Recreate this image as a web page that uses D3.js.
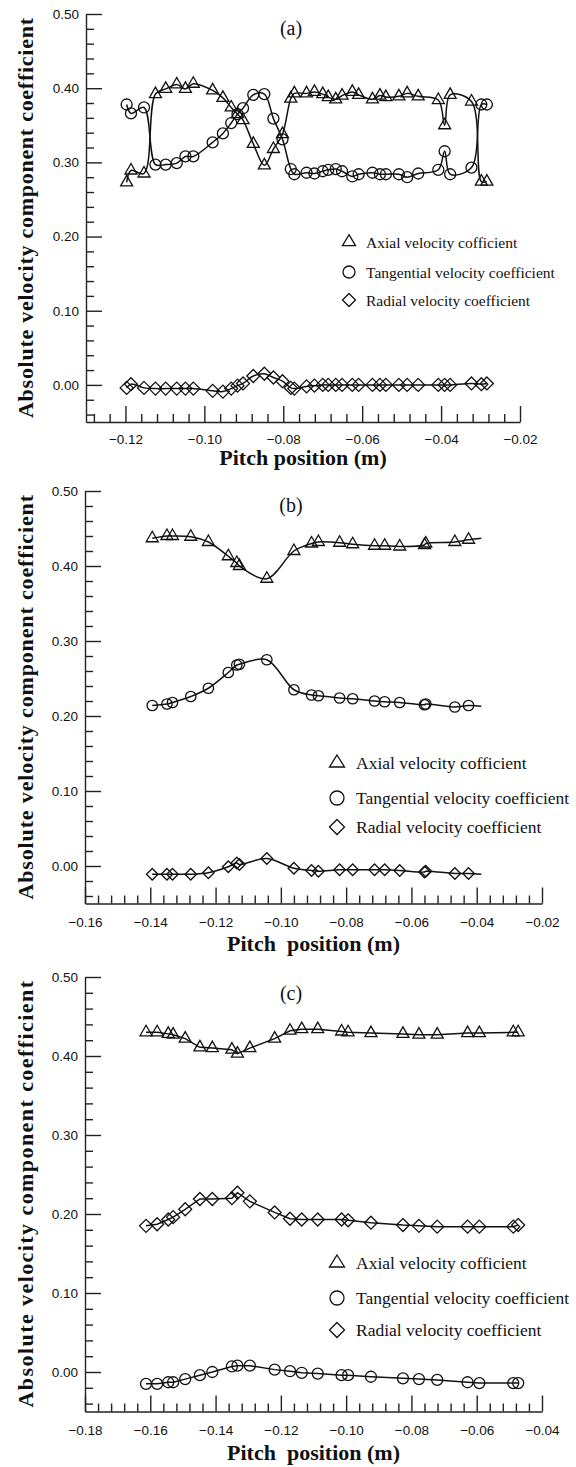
<!DOCTYPE html>
<html><head><meta charset="utf-8">
<script src="https://cdn.jsdelivr.net/npm/d3@7"></script>
<style>body{margin:0;background:#fff}svg{display:block}</style>
</head><body><svg id="chart" width="576" height="1467"></svg>
<script>
// ---------- Panel (a) ----------
const pitchA = [-0.1197,-0.1186,-0.1153,-0.1124,-0.1098,-0.1070,-0.1048,-0.1028,-0.0979,-0.0953,-0.0932,-0.0916,-0.0902,-0.0876,-0.0848,-0.0825,-0.0802,-0.0781,-0.0772,-0.0741,-0.0721,-0.0700,-0.0686,-0.0667,-0.0651,-0.0625,-0.0609,-0.0574,-0.0555,-0.0540,-0.0507,-0.0486,-0.0458,-0.0407,-0.0391,-0.0377,-0.0323,-0.0298,-0.0284];
const axialA = [0.273,0.289,0.285,0.392,0.399,0.405,0.399,0.406,0.397,0.387,0.374,0.365,0.357,0.325,0.296,0.318,0.338,0.386,0.393,0.393,0.395,0.392,0.388,0.385,0.390,0.395,0.391,0.385,0.390,0.388,0.389,0.393,0.389,0.384,0.350,0.391,0.382,0.274,0.274];
const tangentialA = [0.378,0.366,0.374,0.297,0.297,0.299,0.308,0.308,0.327,0.339,0.353,0.365,0.373,0.391,0.392,0.359,0.331,0.291,0.284,0.286,0.285,0.288,0.290,0.291,0.288,0.281,0.284,0.286,0.284,0.284,0.284,0.280,0.285,0.290,0.315,0.284,0.293,0.378,0.378];
const radialA = [-0.004,0.001,-0.004,-0.005,-0.005,-0.005,-0.005,-0.005,-0.008,-0.009,-0.005,-0.001,0.002,0.012,0.015,0.010,0.005,-0.004,-0.005,-0.002,-0.001,0,0,0,0,0,0,0,0,0,0,0,0,0,0,0,0.002,0.001,0.002];

// ---------- Panel (b) ---------- (last point is the end of the curve, drawn without marker)
const pitchB = [-0.1394,-0.1349,-0.1332,-0.1276,-0.1222,-0.1161,-0.1135,-0.1127,-0.1043,-0.0960,-0.0906,-0.0885,-0.0820,-0.0780,-0.0713,-0.0682,-0.0636,-0.0560,-0.0556,-0.0467,-0.0425,-0.0386];
const axialB = [0.437,0.440,0.440,0.439,0.432,0.413,0.404,0.400,0.383,0.420,0.430,0.432,0.431,0.429,0.427,0.427,0.426,0.428,0.430,0.432,0.435,0.437];
const tangentialB = [0.214,0.216,0.218,0.226,0.237,0.258,0.268,0.269,0.275,0.235,0.228,0.227,0.224,0.223,0.220,0.219,0.218,0.215,0.216,0.212,0.214,0.213];
const radialB = [-0.011,-0.011,-0.011,-0.011,-0.009,-0.001,0.004,0.002,0.010,-0.003,-0.006,-0.007,-0.005,-0.005,-0.005,-0.005,-0.006,-0.008,-0.007,-0.010,-0.010,-0.011];

// ---------- Panel (c) ----------
const pitchC = [-0.1613,-0.1579,-0.1545,-0.1530,-0.1493,-0.1448,-0.1410,-0.1350,-0.1333,-0.1295,-0.1219,-0.1172,-0.1136,-0.1087,-0.1014,-0.0994,-0.0924,-0.0826,-0.0777,-0.0721,-0.0628,-0.0592,-0.0488,-0.0473];
const axialC = [0.430,0.430,0.428,0.427,0.422,0.411,0.410,0.408,0.403,0.410,0.422,0.432,0.434,0.434,0.431,0.430,0.429,0.428,0.427,0.427,0.429,0.429,0.430,0.430];
const tangentialC = [-0.015,-0.015,-0.013,-0.013,-0.009,-0.004,0.000,0.007,0.008,0.008,0.003,0.001,-0.001,-0.002,-0.004,-0.004,-0.006,-0.008,-0.009,-0.010,-0.013,-0.014,-0.014,-0.014];
const radialC = [0.185,0.187,0.193,0.196,0.206,0.219,0.219,0.220,0.227,0.216,0.202,0.194,0.193,0.193,0.193,0.192,0.189,0.186,0.185,0.184,0.184,0.184,0.184,0.186];

// ---------- Labels / ticks ----------
const legendLabels = ["Axial velocity cofficient","Tangential velocity coefficient","Radial velocity coefficient"];
const seriesShapes = ["triangle","circle","diamond"];
const yTickValues = [0.00,0.10,0.20,0.30,0.40,0.50];
const xTicksA = [-0.12,-0.10,-0.08,-0.06,-0.04,-0.02];
const xTicksB = [-0.16,-0.14,-0.12,-0.10,-0.08,-0.06,-0.04,-0.02];
const xTicksC = [-0.18,-0.16,-0.14,-0.12,-0.10,-0.08,-0.06,-0.04];
const yTitle = "Absolute velocity component coefficient";

const panels = [
  {label:"(a)", labelY:28, x:pitchA, series:[axialA,tangentialA,radialA], tail:0,
   xDomain:[-0.13,-0.02], xRange:[86,520], yRange:[422,14], xTicks:xTicksA,
   curve:d3.curveCatmullRom.alpha(0.5), tickPad:12, xTitle:"Pitch position (m)", xTitleY:457,
   legend:{x:349, ys:[242,272,300], tx:366, font:15.5, tri:[13,11], r:6, dia:6.5},
   mk:{tri:[12,10.5], r:5.5, dia:6.5}},
  {label:"(b)", labelY:505, x:pitchB, series:[axialB,tangentialB,radialB], tail:1,
   xDomain:[-0.16,-0.02], xRange:[85,542], yRange:[903.5,491], xTicks:xTicksB,
   curve:d3.curveCatmullRom.alpha(0.5), tickPad:14, xTitle:"Pitch  position (m)", xTitleY:943,
   legend:{x:337, ys:[763,798,827], tx:356, font:17.5, tri:[15,12], r:7, dia:7.5},
   mk:{tri:[12,10.5], r:5.2, dia:5.8}},
  {label:"(c)", labelY:993, x:pitchC, series:[axialC,tangentialC,radialC], tail:0,
   xDomain:[-0.18,-0.04], xRange:[85,542], yRange:[1411.5,977], xTicks:xTicksC,
   curve:d3.curveLinear, tickPad:14, xTitle:"Pitch  position (m)", xTitleY:1452,
   legend:{x:337, ys:[1263,1298,1330], tx:356, font:17.5, tri:[15,12], r:7, dia:7.5},
   mk:{tri:[12,10.5], r:5.5, dia:6.5}}
];

const svg = d3.select("#chart");
const INK = "#111";

function shapePath(shape, m) {
  if (shape === "triangle") {
    const w = m.tri[0], h = m.tri[1];
    return `M0,${-2*h/3}L${w/2},${h/3}L${-w/2},${h/3}Z`;
  }
  if (shape === "diamond") {
    const s = m.dia;
    return `M0,${-s}L${s},0L0,${s}L${-s},0Z`;
  }
  return null;
}
function drawMarker(g, shape, m, cx, cy, sw) {
  if (shape === "circle") {
    g.append("circle").attr("cx", cx).attr("cy", cy).attr("r", m.r)
      .attr("fill", "none").attr("stroke", INK).attr("stroke-width", sw);
  } else {
    g.append("path").attr("d", shapePath(shape, m)).attr("transform", `translate(${cx},${cy})`)
      .attr("fill", "none").attr("stroke", INK).attr("stroke-width", sw);
  }
}

panels.forEach(p => {
  const g = svg.append("g");
  const x = d3.scaleLinear().domain(p.xDomain).range(p.xRange);
  const y = d3.scaleLinear().domain([-0.05, 0.50]).range(p.yRange);

  // minor tick values
  const xMinor = [];
  for (let k = Math.ceil(p.xDomain[0]*250 - 1e-6); k <= Math.floor(p.xDomain[1]*250 + 1e-6); k++) if (k % 5 !== 0) xMinor.push(k/250);
  const yMinor = [];
  for (let k = -2; k <= 25; k++) if (k % 5 !== 0) yMinor.push(k/50);

  // axes
  g.append("g").attr("transform", `translate(0,${p.yRange[0]})`)
    .call(d3.axisBottom(x).tickValues(p.xTicks).tickSize(-16).tickSizeOuter(0).tickPadding(p.tickPad).tickFormat(d3.format(".2f")));
  g.append("g").attr("transform", `translate(0,${p.yRange[0]})`)
    .call(d3.axisBottom(x).tickValues(xMinor).tickSize(-8).tickSizeOuter(0).tickFormat(""))
    .call(a => a.select(".domain").remove());
  g.append("g").attr("transform", `translate(${p.xRange[0]},0)`)
    .call(d3.axisLeft(y).tickValues(yTickValues).tickSize(-16).tickSizeOuter(0).tickPadding(7).tickFormat(d3.format(".2f")));
  g.append("g").attr("transform", `translate(${p.xRange[0]},0)`)
    .call(d3.axisLeft(y).tickValues(yMinor).tickSize(-8).tickSizeOuter(0).tickFormat(""))
    .call(a => a.select(".domain").remove());
  g.selectAll(".domain, .tick line").attr("stroke", "#222").attr("stroke-width", 1.4);
  g.selectAll(".tick text").attr("font-family", "'Liberation Sans', Arial, sans-serif")
    .attr("font-size", 13.5).attr("fill", "#111");

  // titles
  g.append("text").attr("x", (p.xRange[0]+p.xRange[1])/2).attr("y", p.xTitleY)
    .attr("text-anchor", "middle").attr("dominant-baseline", "central")
    .attr("font-family", "'Liberation Serif', 'Times New Roman', serif").attr("font-weight", "bold")
    .attr("font-size", 22).style("white-space", "pre").attr("fill", "#111").text(p.xTitle);
  const yc = (p.yRange[0]+p.yRange[1])/2;
  g.append("text").attr("transform", `translate(33,${yc}) rotate(-90)`)
    .attr("text-anchor", "middle")
    .attr("font-family", "'Liberation Serif', 'Times New Roman', serif").attr("font-weight", "bold")
    .attr("font-size", 22).attr("textLength", (p.yRange[0]-p.yRange[1]) - 8).attr("lengthAdjust", "spacing")
    .attr("fill", "#111").text(yTitle);
  g.append("text").attr("x", 291).attr("y", p.labelY).attr("text-anchor", "middle")
    .attr("dominant-baseline", "central")
    .attr("font-family", "'Liberation Serif', 'Times New Roman', serif").attr("font-size", 20)
    .attr("fill", "#111").text(p.label);

  // series
  const line = d3.line().x(d => x(d[0])).y(d => y(d[1])).curve(p.curve);
  p.series.forEach((vals, si) => {
    const pts = p.x.map((xv, i) => [xv, vals[i]]);
    g.append("path").attr("d", line(pts)).attr("fill", "none").attr("stroke", INK).attr("stroke-width", 1.5);
    const mg = g.append("g");
    pts.slice(0, pts.length - p.tail).forEach(d => drawMarker(mg, seriesShapes[si], p.mk, x(d[0]), y(d[1]), 1.3));
  });

  // legend
  legendLabels.forEach((lab, i) => {
    const ly = p.legend.ys[i];
    drawMarker(g, seriesShapes[i], p.legend, p.legend.x, ly, 1.3);
    g.append("text").attr("x", p.legend.tx).attr("y", ly).attr("dominant-baseline", "central")
      .attr("font-family", "'Liberation Serif', 'Times New Roman', serif").attr("font-size", p.legend.font)
      .attr("fill", "#111").text(lab);
  });
});
</script>
</body></html>
